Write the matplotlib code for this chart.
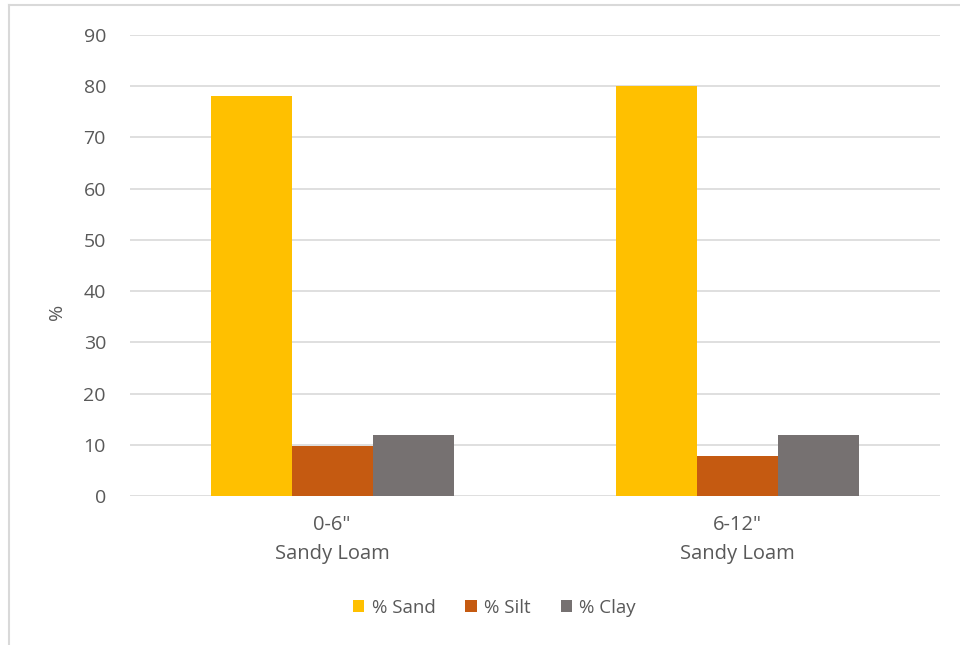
import matplotlib.pyplot as plt
import numpy as np

categories = ['0-6"\nSandy Loam', '6-12"\nSandy Loam']
series = ['% Sand', '% Silt', '% Clay']
sand = [78, 80]
silt = [9.7, 7.8]
clay = [12, 12]
colors = ['#FFC000', '#C55A11', '#767171']
yticks = [0, 10, 20, 30, 40, 50, 60, 70, 80, 90]

plt.rcParams['font.family'] = ['Open Sans', 'DejaVu Sans']
text_color = '#595959'

fig = plt.figure(figsize=(9.6, 6.45), dpi=100)
ax = fig.add_axes([0.135, 0.231, 0.844, 0.715])

x = np.arange(len(categories))
w = 0.2
for i, (vals, name) in enumerate(zip([sand, silt, clay], series)):
    ax.bar(x + (i - 1) * w, vals, w, color=colors[i], label=name, zorder=3)

ax.set_xlim(-0.5, 1.5)
ax.set_ylim(0, 90)
ax.set_yticks(yticks)
ax.set_xticks(x)
ax.set_xticklabels(categories, fontsize=14.5, color=text_color, linespacing=1.6)
ax.tick_params(axis='y', labelsize=14, labelcolor=text_color, length=0, pad=17)
ax.tick_params(axis='x', length=0, pad=14)
ax.grid(axis='y', color='#D9D9D9', linewidth=1.2, zorder=0)
for s in ax.spines.values():
    s.set_visible(False)
ax.set_ylabel('%', fontsize=14, color=text_color)
ax.yaxis.set_label_coords(-0.078, 0.40)

fig.legend(loc='center', bbox_to_anchor=(0.515, 0.058), ncol=3, frameon=False,
           fontsize=13.5, labelcolor=text_color, handlelength=0.6, handleheight=0.6,
           handletextpad=0.4, columnspacing=1.6)

# outer chart border (top and left visible)
fig.add_artist(plt.Line2D([0.0098, 0.0098], [0, 0.992], transform=fig.transFigure,
                          color='#D9D9D9', linewidth=1.5))
fig.add_artist(plt.Line2D([0.0098, 1.0], [0.992, 0.992], transform=fig.transFigure,
                          color='#D9D9D9', linewidth=1.5))

fig.savefig('out.png', dpi=100)
